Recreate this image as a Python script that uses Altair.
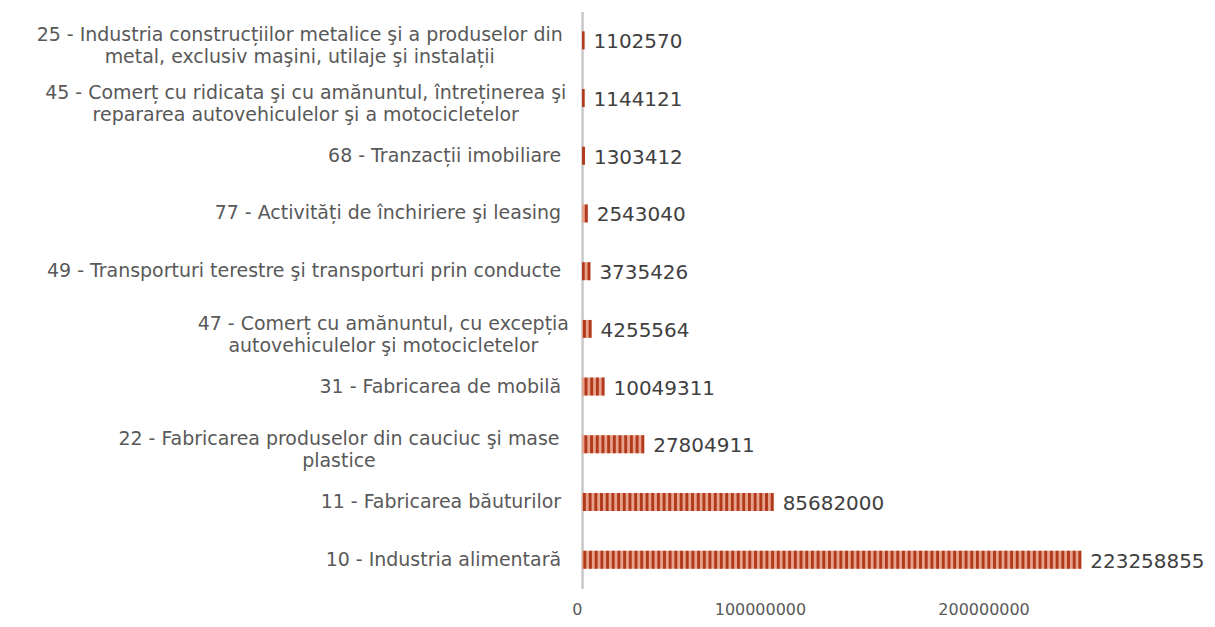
import altair as alt
import pandas as pd

labels = [
    "25 - Industria construcțiilor metalice şi a produselor din\nmetal, exclusiv maşini, utilaje şi instalații",
    "45 - Comerț cu ridicata şi cu amănuntul, întreținerea şi\nrepararea autovehiculelor şi a motocicletelor",
    "68 - Tranzacții imobiliare",
    "77 - Activități de închiriere şi  leasing",
    "49 - Transporturi terestre şi transporturi prin conducte",
    "47 - Comerț cu amănuntul, cu excepția\nautovehiculelor şi motocicletelor",
    "31 - Fabricarea de mobilă ",
    "22 - Fabricarea produselor din cauciuc şi mase\nplastice",
    "11 - Fabricarea băuturilor",
    "10 - Industria alimentară",
]
values = [1102570, 1144121, 1303412, 2543040, 3735426, 4255564,
          10049311, 27804911, 85682000, 223258855]
x_ticks = [0, 100000000, 200000000]

df = pd.DataFrame({"label": labels, "value": values})

FONT = "Century Gothic, DejaVu Sans"
LBL_SIZE = 19
LIGHT = "#E7A28C"
DARK = "#B23A1C"

yscale = alt.Scale(domain=labels, paddingInner=0.69, paddingOuter=0.345)
xscale = alt.Scale(domain=[0, 250000000], nice=False)

yaxis = alt.Axis(labels=False, ticks=False, title=None, grid=False,
                 domainColor="#C8C8C8", domainWidth=2.5)
xaxis = alt.Axis(values=x_ticks, format="d", title=None, grid=False,
                 domain=False, ticks=False, labelAlign="right",
                 labelFont=FONT, labelFontSize=16, labelColor="#595959",
                 labelPadding=13, labelFlush=False)

Y = alt.Y("label:N", scale=yscale, sort=None, axis=yaxis)
X = alt.X("value:Q", scale=xscale, axis=xaxis)

base = alt.Chart(df)

bars = base.mark_bar(color=LIGHT).encode(y=Y, x=X)

stripes = base.mark_rule(color=DARK, strokeWidth=18, strokeDash=[2.9, 2.8]).encode(
    y=alt.Y("label:N", scale=yscale, sort=None, bandPosition=0.5, axis=yaxis),
    x=X,
    x2=alt.datum(0),
)

vals = base.mark_text(align="left", baseline="middle", dx=9, dy=2,
                      font=FONT, fontSize=20, color="#404040").encode(
    y=Y, x=X,
    text=alt.Text("value:Q", format="d"),
)

single = base.transform_filter("indexof(datum.label, '\\n') < 0").mark_text(
    align="right", baseline="middle", font=FONT, fontSize=LBL_SIZE, color="#595959"
).encode(
    y=Y,
    x=alt.value(-21),
    text="label:N",
)

L1 = "split(datum.label, '\\n')[0]"
NARROW_RE = "regexp('[ilrtțIfj ,.-]', 'g')"
n_normal = "length(replace(%s, %s, ''))" % (L1, NARROW_RE)
n_narrow = "(length(%s) - %s)" % (L1, n_normal)
half_w = "(0.62 * %s + 0.32 * %s) * %d / 2" % (n_normal, n_narrow, LBL_SIZE)

multi = base.transform_filter("indexof(datum.label, '\\n') >= 0").transform_calculate(
    lines="split(datum.label, '\\n')"
).mark_text(
    align="center", baseline="middle", font=FONT, fontSize=LBL_SIZE, lineHeight=22,
    color="#595959", dy=-5,
    dx=alt.expr("-21 - " + half_w),
).encode(
    y=Y,
    x=alt.value(0),
    text="lines:N",
)

chart = alt.layer(bars, stripes, vals, single, multi).properties(
    width=560, height=578,
    autosize=alt.AutoSizeParams(type="none"),
    padding={"left": 575, "top": 3, "right": 66, "bottom": 30},
).configure_view(stroke=None)

chart.save("out.html", embed_options={"renderer": "svg", "actions": False})
